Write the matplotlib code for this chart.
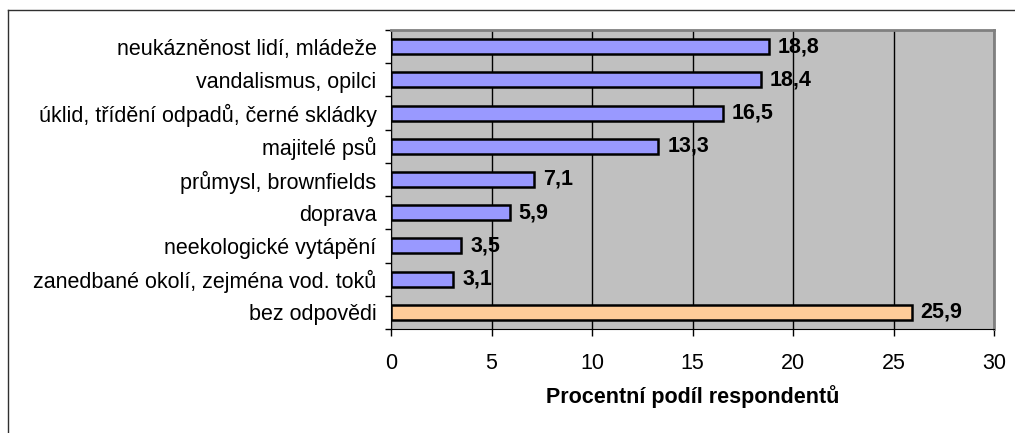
import matplotlib
matplotlib.use("Agg")
import matplotlib.pyplot as plt
from matplotlib.lines import Line2D

categories = ["neukázněnost lidí, mládeže", "vandalismus, opilci",
              "úklid, třídění odpadů, černé skládky", "majitelé psů",
              "průmysl, brownfields", "doprava", "neekologické vytápění",
              "zanedbané okolí, zejména vod. toků", "bez odpovědi"]
values = [18.8, 18.4, 16.5, 13.3, 7.1, 5.9, 3.5, 3.1, 25.9]
colors = ["#9999FF"] * 8 + ["#FFCC99"]
xticks = [0, 5, 10, 15, 20, 25, 30]

plt.rcParams['font.family'] = ['Liberation Sans', 'DejaVu Sans']
FS = 15.5

fig = plt.figure(figsize=(10.15, 4.33), dpi=100)
ax = fig.add_axes([391/1015, 1-329/433, (994-391)/1015, (329-30)/433])
ax.set_facecolor("#C0C0C0")

n = len(categories)
ypos = list(range(n))
ax.barh(ypos, values, height=0.45, color=colors, edgecolor="black", linewidth=1.8, zorder=3)
for y, v in zip(ypos, values):
    ax.text(v + 0.45, y, f"{v:.1f}".replace(".", ","), va="center", ha="left",
            fontsize=FS, fontweight="bold", zorder=4)

ax.set_ylim(n - 0.5, -0.5)
ax.set_xlim(0, 30)
ax.set_xticks(xticks)
ax.set_xticklabels([str(t) for t in xticks], fontsize=FS)
ax.set_yticks(ypos)
ax.set_yticklabels(categories, fontsize=FS)
ax.tick_params(axis='y', length=0, pad=10.5)
ax.tick_params(axis='x', length=5, width=1, pad=12)
ax.set_yticks([i - 0.5 for i in range(n + 1)], minor=True)
ax.tick_params(axis='y', which='minor', length=4.5, width=1)
ax.xaxis.grid(True, color="black", linewidth=1, zorder=1)
ax.set_axisbelow(True)
for s in ["top", "right"]:
    ax.spines[s].set_color("#808080")
    ax.spines[s].set_linewidth(2)
ax.spines["left"].set_color("black")
ax.spines["bottom"].set_color("black")
ax.set_xlabel("Procentní podíl respondentů", fontsize=FS, fontweight="bold", labelpad=8)

# outer frame
fig.add_artist(Line2D([8/1015, 1.0], [1-10/433, 1-10/433], color="#303030", linewidth=1, transform=fig.transFigure))
fig.add_artist(Line2D([8/1015, 8/1015], [1-10/433, 0], color="#303030", linewidth=1, transform=fig.transFigure))

fig.savefig("out.png", dpi=100)
